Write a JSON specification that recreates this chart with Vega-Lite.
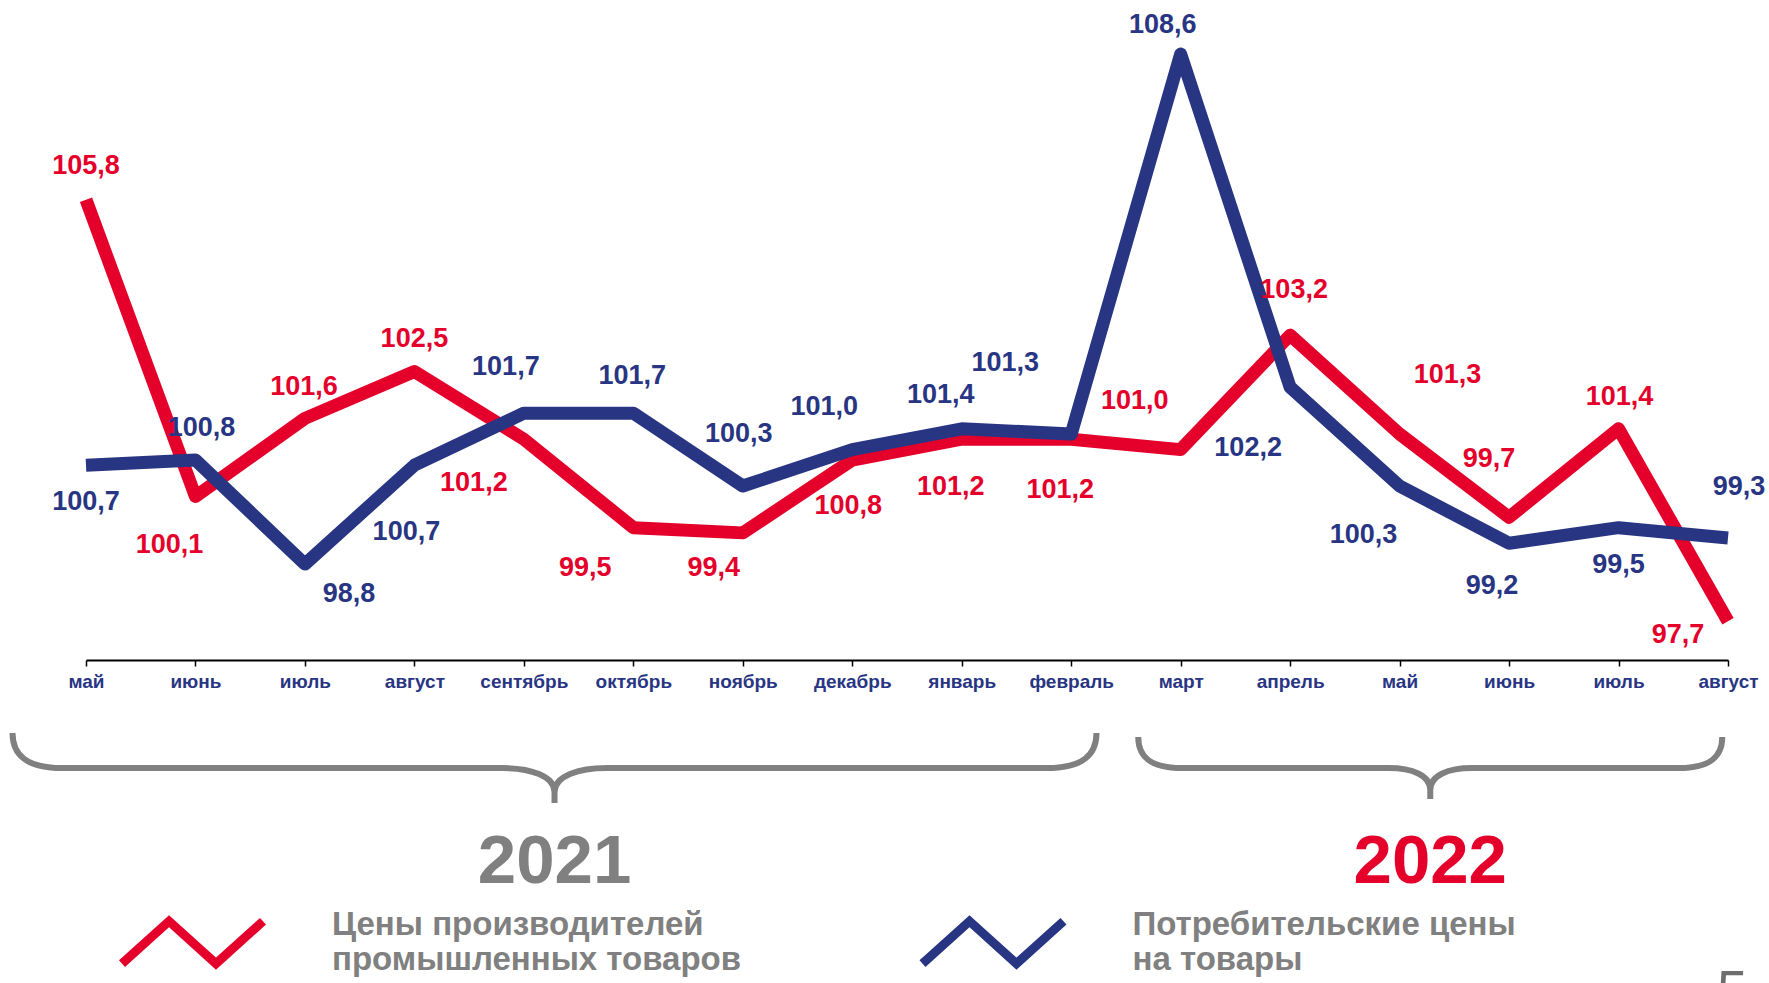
{
  "$schema": "https://vega.github.io/schema/vega-lite/v6.json",
  "width": 1769,
  "height": 983,
  "autosize": {"type": "none"},
  "padding": 0,
  "background": "white",
  "config": {
    "view": {"stroke": null},
    "locale": {"number": {"decimal": ",", "thousands": " ", "grouping": [3], "currency": ["", " ₽"]}},
    "text": {"font": "Liberation Sans"}
  },
  "datasets": {
    "ryady": [
      {"i": 0, "месяц": "май", "год": 2021, "ряд": "Цены производителей промышленных товаров", "индекс": 105.8},
      {"i": 1, "месяц": "июнь", "год": 2021, "ряд": "Цены производителей промышленных товаров", "индекс": 100.1},
      {"i": 2, "месяц": "июль", "год": 2021, "ряд": "Цены производителей промышленных товаров", "индекс": 101.6},
      {"i": 3, "месяц": "август", "год": 2021, "ряд": "Цены производителей промышленных товаров", "индекс": 102.5},
      {"i": 4, "месяц": "сентябрь", "год": 2021, "ряд": "Цены производителей промышленных товаров", "индекс": 101.2},
      {"i": 5, "месяц": "октябрь", "год": 2021, "ряд": "Цены производителей промышленных товаров", "индекс": 99.5},
      {"i": 6, "месяц": "ноябрь", "год": 2021, "ряд": "Цены производителей промышленных товаров", "индекс": 99.4},
      {"i": 7, "месяц": "декабрь", "год": 2021, "ряд": "Цены производителей промышленных товаров", "индекс": 100.8},
      {"i": 8, "месяц": "январь", "год": 2022, "ряд": "Цены производителей промышленных товаров", "индекс": 101.2},
      {"i": 9, "месяц": "февраль", "год": 2022, "ряд": "Цены производителей промышленных товаров", "индекс": 101.2},
      {"i": 10, "месяц": "март", "год": 2022, "ряд": "Цены производителей промышленных товаров", "индекс": 101.0},
      {"i": 11, "месяц": "апрель", "год": 2022, "ряд": "Цены производителей промышленных товаров", "индекс": 103.2},
      {"i": 12, "месяц": "май", "год": 2022, "ряд": "Цены производителей промышленных товаров", "индекс": 101.3},
      {"i": 13, "месяц": "июнь", "год": 2022, "ряд": "Цены производителей промышленных товаров", "индекс": 99.7},
      {"i": 14, "месяц": "июль", "год": 2022, "ряд": "Цены производителей промышленных товаров", "индекс": 101.4},
      {"i": 15, "месяц": "август", "год": 2022, "ряд": "Цены производителей промышленных товаров", "индекс": 97.7},
      {"i": 0, "месяц": "май", "год": 2021, "ряд": "Потребительские цены на товары", "индекс": 100.7},
      {"i": 1, "месяц": "июнь", "год": 2021, "ряд": "Потребительские цены на товары", "индекс": 100.8},
      {"i": 2, "месяц": "июль", "год": 2021, "ряд": "Потребительские цены на товары", "индекс": 98.8},
      {"i": 3, "месяц": "август", "год": 2021, "ряд": "Потребительские цены на товары", "индекс": 100.7},
      {"i": 4, "месяц": "сентябрь", "год": 2021, "ряд": "Потребительские цены на товары", "индекс": 101.7},
      {"i": 5, "месяц": "октябрь", "год": 2021, "ряд": "Потребительские цены на товары", "индекс": 101.7},
      {"i": 6, "месяц": "ноябрь", "год": 2021, "ряд": "Потребительские цены на товары", "индекс": 100.3},
      {"i": 7, "месяц": "декабрь", "год": 2021, "ряд": "Потребительские цены на товары", "индекс": 101.0},
      {"i": 8, "месяц": "январь", "год": 2022, "ряд": "Потребительские цены на товары", "индекс": 101.4},
      {"i": 9, "месяц": "февраль", "год": 2022, "ряд": "Потребительские цены на товары", "индекс": 101.3},
      {"i": 10, "месяц": "март", "год": 2022, "ряд": "Потребительские цены на товары", "индекс": 108.6},
      {"i": 11, "месяц": "апрель", "год": 2022, "ряд": "Потребительские цены на товары", "индекс": 102.2},
      {"i": 12, "месяц": "май", "год": 2022, "ряд": "Потребительские цены на товары", "индекс": 100.3},
      {"i": 13, "месяц": "июнь", "год": 2022, "ряд": "Потребительские цены на товары", "индекс": 99.2},
      {"i": 14, "месяц": "июль", "год": 2022, "ряд": "Потребительские цены на товары", "индекс": 99.5},
      {"i": 15, "месяц": "август", "год": 2022, "ряд": "Потребительские цены на товары", "индекс": 99.3}
    ],
    "gody": [
      {"год": "2021", "центр": 4.28},
      {"год": "2022", "центр": 12.28}
    ],
    "stranica": [
      {"номер": "5", "позиция": 14.9}
    ]
  },
  "layer": [
    {
      "data": {"name": "ryady"},
      "transform": [{"filter": "datum['ряд'] == 'Цены производителей промышленных товаров'"}],
      "mark": {"type": "line", "strokeWidth": 13, "strokeJoin": "round", "strokeCap": "butt"},
      "encoding": {
        "x": {
          "field": "i", "type": "quantitative",
          "scale": {"domain": [0, 15], "range": [86, 1728], "nice": false, "zero": false},
          "axis": {
            "orient": "bottom", "offset": -323, "title": null, "grid": false,
            "values": [0,1,2,3,4,5,6,7,8,9,10,11,12,13,14,15],
            "labelExpr": "['май','июнь','июль','август','сентябрь','октябрь','ноябрь','декабрь','январь','февраль','март','апрель','май','июнь','июль','август'][datum.value]",
            "domainColor": "#000000", "domainWidth": 2,
            "tickColor": "#000000", "tickSize": 6, "tickWidth": 1.5,
            "labelFont": "Liberation Sans", "labelFontWeight": "bold", "labelFontSize": 19,
            "labelColor": "#283583", "labelPadding": 6,
            "labelFlush": false, "labelOverlap": false, "labelBound": false
          }
        },
        "y": {
          "field": "индекс", "type": "quantitative",
          "scale": {"domain": [90.75, 109.64], "nice": false, "zero": false},
          "axis": null
        },
        "color": {
          "field": "ряд", "type": "nominal",
          "scale": {"domain": ["Цены производителей промышленных товаров", "Потребительские цены на товары"], "range": ["#E4002B", "#283583"]},
          "legend": {
            "orient": "none", "legendX": 117.5, "legendY": 867, "direction": "horizontal",
            "title": null, "padding": 0,
            "symbolType": "M-1,0.3L-0.333,-0.3L0.333,0.3L1,-0.3",
            "symbolSize": 19881, "symbolStrokeWidth": 9, "symbolFillColor": "transparent", "symbolOpacity": 1,
            "labelExpr": "datum.label == 'Цены производителей промышленных товаров' ? ['Цены производителей', 'промышленных товаров'] : ['Потребительские цены', 'на товары']",
            "labelFont": "Liberation Sans", "labelFontWeight": "bold", "labelFontSize": 33,
            "labelBaseline": "bottom", "labelLineHeight": 39,
            "labelColor": "#808080", "labelLimit": 1000, "labelOffset": 64.5, "columnPadding": 162.5
          }
        }
      }
    },
    {
      "data": {"name": "ryady"},
      "transform": [{"filter": "datum['ряд'] == 'Потребительские цены на товары'"}],
      "mark": {"type": "line", "strokeWidth": 13, "strokeJoin": "round", "strokeCap": "butt"},
      "encoding": {
        "x": {"field": "i", "type": "quantitative"},
        "y": {"field": "индекс", "type": "quantitative"},
        "color": {"field": "ряд", "type": "nominal"}
      }
    },
    {
      "data": {"name": "ryady"},
      "transform": [{"filter": "datum['ряд'] == 'Цены производителей промышленных товаров'"}],
      "mark": {
        "type": "text", "font": "Liberation Sans", "fontWeight": "bold", "fontSize": 27,
        "color": "#E4002B", "align": "center", "baseline": "middle",
        "dx": {"expr": "[0,-26,-1,0,-50,-48,-29,-4,-11,-11,-46,4,48,-20,1,-50][datum.i]"},
        "dy": {"expr": "[-34,49,-31,-33,44,40,35,46,48,51,-49,-45,-59,-58,-32,14][datum.i]"}
      },
      "encoding": {
        "x": {"field": "i", "type": "quantitative"},
        "y": {"field": "индекс", "type": "quantitative"},
        "text": {"field": "индекс", "type": "quantitative", "format": ".1f"}
      }
    },
    {
      "data": {"name": "ryady"},
      "transform": [{"filter": "datum['ряд'] == 'Потребительские цены на товары'"}],
      "mark": {
        "type": "text", "font": "Liberation Sans", "fontWeight": "bold", "fontSize": 27,
        "color": "#283583", "align": "center", "baseline": "middle",
        "dx": {"expr": "[0,6,44,-8,-18,-1,-4,-28,-21,-66,-18,-42,-36,-17,0,11][datum.i]"},
        "dy": {"expr": "[37,-32,30,67,-46,-37,-52,-43,-34,-71,-29,61,49,43,37,-51][datum.i]"}
      },
      "encoding": {
        "x": {"field": "i", "type": "quantitative"},
        "y": {"field": "индекс", "type": "quantitative"},
        "text": {"field": "индекс", "type": "quantitative", "format": ".1f"}
      }
    },
    {
      "data": {"name": "gody"},
      "transform": [{"filter": "datum['год'] == '2021'"}],
      "mark": {
        "type": "point", "filled": false, "size": 4, "opacity": 1,
        "stroke": "#808080", "strokeWidth": 6,
        "shape": "M-542,-35 C-542,-13 -528,0 -492,0 L-52,0 C-24,0 0,8 0,24 L0,35 M0,24 C0,8 24,0 52,0 L492,0 C528,0 542,-13 542,-35"
      },
      "encoding": {
        "x": {"field": "центр", "type": "quantitative"},
        "y": {"datum": 94.88}
      }
    },
    {
      "data": {"name": "gody"},
      "transform": [{"filter": "datum['год'] == '2022'"}],
      "mark": {
        "type": "point", "filled": false, "size": 4, "opacity": 1,
        "stroke": "#808080", "strokeWidth": 6,
        "shape": "M-292,-31 C-292,-11 -280,0 -248,0 L-42,0 C-18,0 0,7 0,22 L0,31 M0,22 C0,7 18,0 42,0 L248,0 C280,0 292,-11 292,-31"
      },
      "encoding": {
        "x": {"field": "центр", "type": "quantitative"},
        "y": {"datum": 94.88}
      }
    },
    {
      "data": {"name": "gody"},
      "mark": {"type": "text", "font": "Liberation Sans", "fontWeight": "bold", "fontSize": 69, "baseline": "alphabetic", "align": "center"},
      "encoding": {
        "x": {"field": "центр", "type": "quantitative"},
        "y": {"datum": 92.67},
        "text": {"field": "год"},
        "color": {"condition": {"test": "datum['год'] == '2022'", "value": "#E4002B"}, "value": "#808080"}
      }
    },
    {
      "data": {"name": "stranica"},
      "mark": {"type": "text", "font": "Liberation Sans", "fontSize": 55, "baseline": "top", "align": "left", "color": "#6E6E6E"},
      "encoding": {
        "x": {"field": "позиция", "type": "quantitative"},
        "y": {"datum": 91.075},
        "text": {"field": "номер"}
      }
    }
  ]
}
